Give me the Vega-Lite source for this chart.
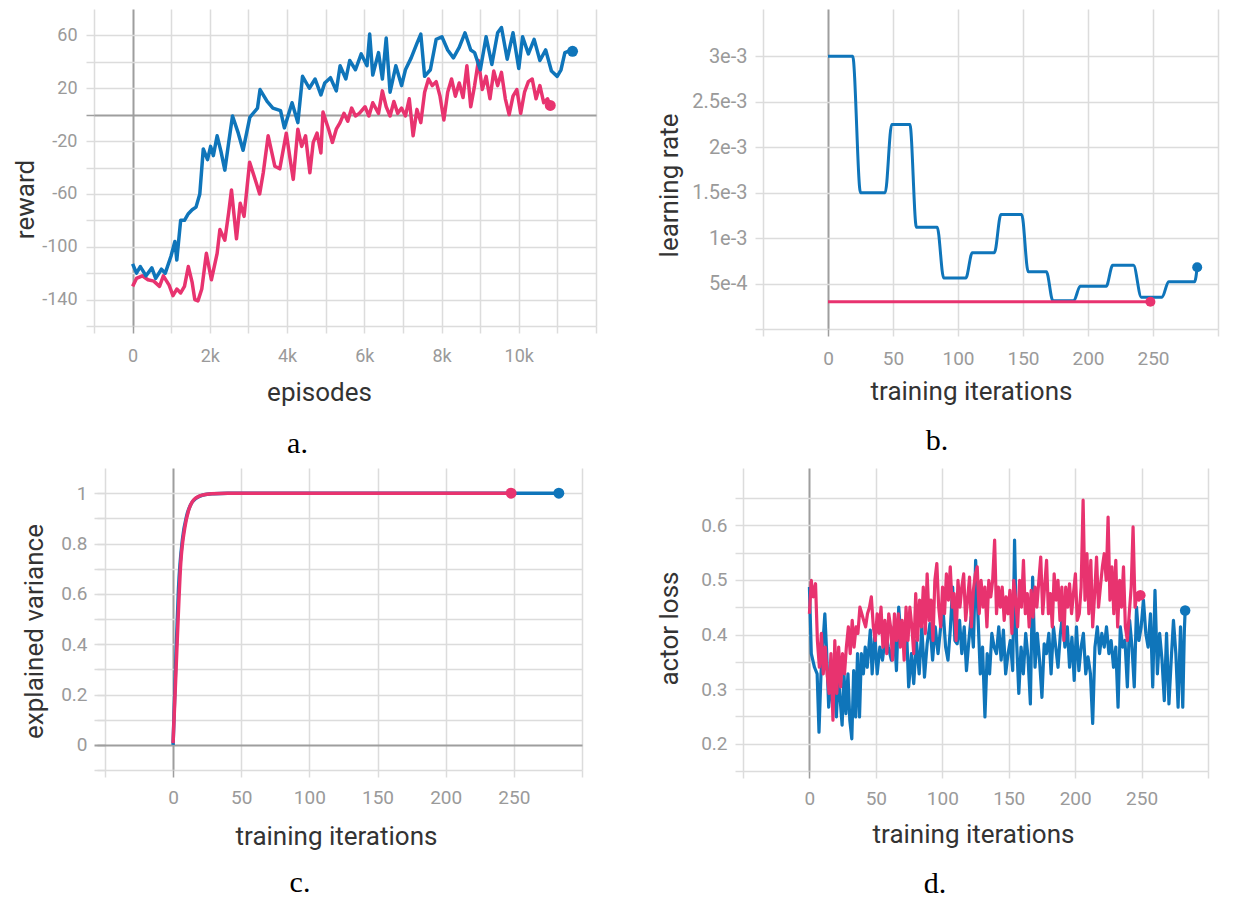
{
  "$schema": "https://vega.github.io/schema/vega-lite/v6.json",
  "autosize": {"type": "pad"},
  "padding": {"left": 12, "top": 9, "right": 5, "bottom": 5},
  "background": "white",
  "columns": 2,
  "align": "none",
  "bounds": "full",
  "spacing": {"row": 9, "column": 59},
  "config": {
    "font": "Roboto",
    "view": {"stroke": null},
    "axis": {
      "domain": false,
      "labelFont": "Roboto",
      "labelColor": "#9a9a9a",
      "titleFont": "Roboto",
      "titleColor": "#333333",
      "titleFontWeight": "normal",
      "titleFontSize": 26,
      "tickWidth": 1.5,
      "gridWidth": 1.5,
      "labelOverlap": false,
      "labelFlush": false,
      "labelBound": false,
      "titleBaseline": "alphabetic",
      "titleAlign": "center",
      "titlePadding": 0
    },
    "title": {"font": "Liberation Serif", "fontSize": 30, "fontWeight": "normal", "color": "#000000", "orient": "bottom", "anchor": "middle", "frame": "group", "baseline": "alphabetic"}
  },
  "concat": [
    {
      "width": 502,
      "height": 317,
      "title": {"text": "a.", "offset": 24, "dx": -47.5},
      "data": {"values": [
        {"run":"run 1","step":0,"value":-113},{"run":"run 1","step":100,"value":-120},{"run":"run 1","step":199,"value":-115},{"run":"run 1","step":348,"value":-122},{"run":"run 1","step":498,"value":-116},{"run":"run 1","step":597,"value":-124},{"run":"run 1","step":746,"value":-117},{"run":"run 1","step":846,"value":-120},{"run":"run 1","step":995,"value":-107},{"run":"run 1","step":1095,"value":-96},{"run":"run 1","step":1144,"value":-110},{"run":"run 1","step":1244,"value":-80},{"run":"run 1","step":1343,"value":-80},{"run":"run 1","step":1443,"value":-75},{"run":"run 1","step":1542,"value":-72},{"run":"run 1","step":1642,"value":-70},{"run":"run 1","step":1740,"value":-60},{"run":"run 1","step":1830,"value":-26},{"run":"run 1","step":1940,"value":-34},{"run":"run 1","step":2020,"value":-24},{"run":"run 1","step":2090,"value":-31},{"run":"run 1","step":2189,"value":-16},{"run":"run 1","step":2289,"value":-28},{"run":"run 1","step":2388,"value":-42},{"run":"run 1","step":2488,"value":-21},{"run":"run 1","step":2587,"value":-1},{"run":"run 1","step":2736,"value":-14},{"run":"run 1","step":2860,"value":-27},{"run":"run 1","step":3035,"value":-2},{"run":"run 1","step":3234,"value":5},{"run":"run 1","step":3300,"value":19},{"run":"run 1","step":3483,"value":10},{"run":"run 1","step":3632,"value":5},{"run":"run 1","step":3831,"value":3},{"run":"run 1","step":3930,"value":-10},{"run":"run 1","step":4129,"value":9},{"run":"run 1","step":4279,"value":-6},{"run":"run 1","step":4400,"value":29},{"run":"run 1","step":4577,"value":20},{"run":"run 1","step":4726,"value":27},{"run":"run 1","step":4876,"value":15},{"run":"run 1","step":4975,"value":24},{"run":"run 1","step":5124,"value":28},{"run":"run 1","step":5274,"value":18},{"run":"run 1","step":5373,"value":37},{"run":"run 1","step":5522,"value":27},{"run":"run 1","step":5622,"value":41},{"run":"run 1","step":5771,"value":34},{"run":"run 1","step":5920,"value":46},{"run":"run 1","step":6070,"value":37},{"run":"run 1","step":6139,"value":61},{"run":"run 1","step":6219,"value":30},{"run":"run 1","step":6368,"value":47},{"run":"run 1","step":6468,"value":27},{"run":"run 1","step":6567,"value":58},{"run":"run 1","step":6667,"value":17},{"run":"run 1","step":6816,"value":37},{"run":"run 1","step":6965,"value":22},{"run":"run 1","step":7065,"value":34},{"run":"run 1","step":7214,"value":43},{"run":"run 1","step":7363,"value":54},{"run":"run 1","step":7463,"value":61},{"run":"run 1","step":7562,"value":29},{"run":"run 1","step":7711,"value":34},{"run":"run 1","step":7861,"value":57},{"run":"run 1","step":8010,"value":59},{"run":"run 1","step":8159,"value":49},{"run":"run 1","step":8308,"value":43},{"run":"run 1","step":8458,"value":51},{"run":"run 1","step":8607,"value":62},{"run":"run 1","step":8756,"value":49},{"run":"run 1","step":8856,"value":47},{"run":"run 1","step":9005,"value":34},{"run":"run 1","step":9154,"value":59},{"run":"run 1","step":9303,"value":38},{"run":"run 1","step":9453,"value":62},{"run":"run 1","step":9552,"value":66},{"run":"run 1","step":9701,"value":42},{"run":"run 1","step":9851,"value":62},{"run":"run 1","step":10000,"value":35},{"run":"run 1","step":10099,"value":59},{"run":"run 1","step":10249,"value":46},{"run":"run 1","step":10398,"value":57},{"run":"run 1","step":10547,"value":41},{"run":"run 1","step":10697,"value":49},{"run":"run 1","step":10846,"value":33},{"run":"run 1","step":10995,"value":29},{"run":"run 1","step":11094,"value":34},{"run":"run 1","step":11194,"value":47},{"run":"run 1","step":11293,"value":48},{"run":"run 1","step":11393,"value":48},
        {"run":"run 2","step":0,"value":-130},{"run":"run 2","step":100,"value":-124},{"run":"run 2","step":249,"value":-122},{"run":"run 2","step":398,"value":-125},{"run":"run 2","step":547,"value":-126},{"run":"run 2","step":697,"value":-130},{"run":"run 2","step":796,"value":-122},{"run":"run 2","step":945,"value":-129},{"run":"run 2","step":1045,"value":-137},{"run":"run 2","step":1144,"value":-132},{"run":"run 2","step":1244,"value":-135},{"run":"run 2","step":1343,"value":-130},{"run":"run 2","step":1443,"value":-115},{"run":"run 2","step":1542,"value":-127},{"run":"run 2","step":1610,"value":-140},{"run":"run 2","step":1692,"value":-141},{"run":"run 2","step":1791,"value":-132},{"run":"run 2","step":1910,"value":-105},{"run":"run 2","step":2040,"value":-125},{"run":"run 2","step":2189,"value":-105},{"run":"run 2","step":2260,"value":-87},{"run":"run 2","step":2388,"value":-95},{"run":"run 2","step":2488,"value":-74},{"run":"run 2","step":2560,"value":-57},{"run":"run 2","step":2690,"value":-94},{"run":"run 2","step":2786,"value":-67},{"run":"run 2","step":2886,"value":-77},{"run":"run 2","step":3030,"value":-36},{"run":"run 2","step":3184,"value":-50},{"run":"run 2","step":3290,"value":-60},{"run":"run 2","step":3383,"value":-44},{"run":"run 2","step":3510,"value":-16},{"run":"run 2","step":3682,"value":-39},{"run":"run 2","step":3810,"value":-41},{"run":"run 2","step":3980,"value":-14},{"run":"run 2","step":4080,"value":-34},{"run":"run 2","step":4160,"value":-49},{"run":"run 2","step":4279,"value":-11},{"run":"run 2","step":4378,"value":-24},{"run":"run 2","step":4478,"value":-16},{"run":"run 2","step":4590,"value":-44},{"run":"run 2","step":4677,"value":-21},{"run":"run 2","step":4776,"value":-14},{"run":"run 2","step":4876,"value":-29},{"run":"run 2","step":4930,"value":2},{"run":"run 2","step":5075,"value":-11},{"run":"run 2","step":5174,"value":-21},{"run":"run 2","step":5274,"value":-11},{"run":"run 2","step":5373,"value":-6},{"run":"run 2","step":5473,"value":1},{"run":"run 2","step":5572,"value":-5},{"run":"run 2","step":5672,"value":5},{"run":"run 2","step":5771,"value":-1},{"run":"run 2","step":5871,"value":1},{"run":"run 2","step":6020,"value":6},{"run":"run 2","step":6119,"value":-1},{"run":"run 2","step":6219,"value":9},{"run":"run 2","step":6368,"value":1},{"run":"run 2","step":6468,"value":18},{"run":"run 2","step":6567,"value":6},{"run":"run 2","step":6667,"value":-1},{"run":"run 2","step":6766,"value":10},{"run":"run 2","step":6866,"value":1},{"run":"run 2","step":6965,"value":5},{"run":"run 2","step":7065,"value":-1},{"run":"run 2","step":7164,"value":12},{"run":"run 2","step":7264,"value":-16},{"run":"run 2","step":7363,"value":4},{"run":"run 2","step":7463,"value":-6},{"run":"run 2","step":7562,"value":17},{"run":"run 2","step":7662,"value":27},{"run":"run 2","step":7761,"value":22},{"run":"run 2","step":7861,"value":25},{"run":"run 2","step":7960,"value":14},{"run":"run 2","step":8060,"value":-4},{"run":"run 2","step":8159,"value":17},{"run":"run 2","step":8259,"value":27},{"run":"run 2","step":8358,"value":14},{"run":"run 2","step":8458,"value":24},{"run":"run 2","step":8557,"value":13},{"run":"run 2","step":8657,"value":37},{"run":"run 2","step":8756,"value":6},{"run":"run 2","step":8856,"value":22},{"run":"run 2","step":8955,"value":41},{"run":"run 2","step":9055,"value":19},{"run":"run 2","step":9154,"value":29},{"run":"run 2","step":9254,"value":12},{"run":"run 2","step":9353,"value":33},{"run":"run 2","step":9453,"value":22},{"run":"run 2","step":9552,"value":32},{"run":"run 2","step":9652,"value":12},{"run":"run 2","step":9751,"value":0},{"run":"run 2","step":9851,"value":14},{"run":"run 2","step":9950,"value":19},{"run":"run 2","step":10050,"value":1},{"run":"run 2","step":10149,"value":17},{"run":"run 2","step":10249,"value":25},{"run":"run 2","step":10348,"value":27},{"run":"run 2","step":10448,"value":12},{"run":"run 2","step":10547,"value":22},{"run":"run 2","step":10647,"value":9},{"run":"run 2","step":10746,"value":12},{"run":"run 2","step":10816,"value":7}
      ]},
      "encoding": {
        "x": {"field": "step", "type": "quantitative", "scale": {"domain": [-1000, 12000], "nice": false, "zero": false},
          "axis": {"values": [-1000,0,1000,2000,3000,4000,5000,6000,7000,8000,9000,10000,11000,12000],
            "labelExpr": "datum.value == 0 ? '0' : (datum.value > 0 && datum.value <= 10000 && datum.value % 2000 == 0 ? (datum.value / 1000) + 'k' : '')",
            "labelFontSize": 18, "tickSize": 7, "labelPadding": 14,
            "title": "episodes", "titleX": 225, "titleY": 74,
            "gridColor": {"condition": {"test": "datum.value === 0", "value": "#9e9e9e"}, "value": "#dcdcdc"},
            "gridWidth": {"condition": {"test": "datum.value === 0", "value": 2}, "value": 1.5},
            "tickColor": {"condition": {"test": "datum.value === 0", "value": "#9e9e9e"}, "value": "#dcdcdc"}}},
        "y": {"field": "value", "type": "quantitative", "scale": {"domain": [-160, 80], "nice": false, "zero": false},
          "axis": {"values": [-160,-140,-120,-100,-80,-60,-40,-20,0,20,40,60],
            "labelExpr": "(datum.value + 180) % 40 == 0 ? '' + datum.value : ''",
            "labelFontSize": 18, "tickSize": 8, "labelPadding": 9,
            "title": "reward", "titleX": -61, "titleY": 190,
            "gridColor": {"condition": {"test": "datum.value === 0", "value": "#9e9e9e"}, "value": "#dcdcdc"},
            "gridWidth": {"condition": {"test": "datum.value === 0", "value": 2}, "value": 1.5},
            "tickColor": {"condition": {"test": "datum.value === 0", "value": "#9e9e9e"}, "value": "#dcdcdc"}}},
        "color": {"field": "run", "type": "nominal", "scale": {"domain": ["run 1", "run 2"], "range": ["#0f75ba", "#e8336f"]}, "legend": null}
      },
      "layer": [
        {"transform": [{"filter": "datum.run === 'run 2'"}], "mark": {"type": "line", "strokeWidth": 3.5, "strokeJoin": "round"}},
        {"transform": [{"filter": "datum.run === 'run 1'"}], "mark": {"type": "line", "strokeWidth": 3.5, "strokeJoin": "round"}},
        {"transform": [{"joinaggregate": [{"op": "max", "field": "step", "as": "maxstep"}], "groupby": ["run"]}, {"filter": "datum.step === datum.maxstep"}],
         "mark": {"type": "point", "filled": true, "size": 120, "opacity": 1}}
      ]
    },
    {
      "width": 455,
      "height": 320,
      "title": {"text": "b.", "offset": 22, "dx": -53.5},
      "data": {"values": [
        {"run":"run 1","step":0,"value":0.003},{"run":"run 1","step":19,"value":0.003},{"run":"run 1","step":25,"value":0.0015},{"run":"run 1","step":44,"value":0.0015},{"run":"run 1","step":49,"value":0.00225},{"run":"run 1","step":63,"value":0.00225},{"run":"run 1","step":68,"value":0.00112},{"run":"run 1","step":84,"value":0.00112},{"run":"run 1","step":89,"value":0.00056},{"run":"run 1","step":106,"value":0.00056},{"run":"run 1","step":111,"value":0.00084},{"run":"run 1","step":128,"value":0.00084},{"run":"run 1","step":133,"value":0.00126},{"run":"run 1","step":149,"value":0.00126},{"run":"run 1","step":154,"value":0.00063},{"run":"run 1","step":168,"value":0.00063},{"run":"run 1","step":173,"value":0.00031},{"run":"run 1","step":189,"value":0.00031},{"run":"run 1","step":194,"value":0.00047},{"run":"run 1","step":214,"value":0.00047},{"run":"run 1","step":219,"value":0.0007},{"run":"run 1","step":235,"value":0.0007},{"run":"run 1","step":241,"value":0.00035},{"run":"run 1","step":257,"value":0.00035},{"run":"run 1","step":262,"value":0.00052},{"run":"run 1","step":282,"value":0.00052},{"run":"run 1","step":284,"value":0.00068},
        {"run":"run 2","step":0,"value":0.0003},{"run":"run 2","step":248,"value":0.0003}
      ]},
      "encoding": {
        "x": {"field": "step", "type": "quantitative", "scale": {"domain": [-50, 300], "nice": false, "zero": false},
          "axis": {"values": [-50,0,50,100,150,200,250,300],
            "labelExpr": "datum.value >= 0 && datum.value <= 250 ? datum.label : ''",
            "labelFontSize": 19, "tickSize": 7, "labelPadding": 13,
            "title": "training iterations", "titleX": 208, "titleY": 70,
            "gridColor": {"condition": {"test": "datum.value === 0", "value": "#9e9e9e"}, "value": "#dcdcdc"},
            "gridWidth": {"condition": {"test": "datum.value === 0", "value": 2}, "value": 1.5},
            "tickColor": {"condition": {"test": "datum.value === 0", "value": "#9e9e9e"}, "value": "#dcdcdc"}}},
        "y": {"field": "value", "type": "quantitative", "scale": {"domain": [0, 0.00352], "nice": false, "zero": false},
          "axis": {"values": [0,0.0005,0.001,0.0015,0.002,0.0025,0.003],
            "labelExpr": "round(datum.value*10000) == 5 ? '5e-4' : round(datum.value*10000) == 10 ? '1e-3' : round(datum.value*10000) == 15 ? '1.5e-3' : round(datum.value*10000) == 20 ? '2e-3' : round(datum.value*10000) == 25 ? '2.5e-3' : round(datum.value*10000) == 30 ? '3e-3' : ''",
            "labelFontSize": 20, "tickSize": 8, "labelPadding": 8,
            "title": "learning rate", "titleX": -86, "titleY": 176,
            "gridColor": "#dcdcdc", "tickColor": "#dcdcdc"}},
        "color": {"field": "run", "type": "nominal", "scale": {"domain": ["run 1", "run 2"], "range": ["#0f75ba", "#e8336f"]}, "legend": null}
      },
      "layer": [
        {"transform": [{"filter": "datum.run === 'run 1'"}], "mark": {"type": "line", "strokeWidth": 3, "interpolate": "monotone"}},
        {"transform": [{"filter": "datum.run === 'run 2'"}], "mark": {"type": "line", "strokeWidth": 3}},
        {"transform": [{"joinaggregate": [{"op": "max", "field": "step", "as": "maxstep"}], "groupby": ["run"]}, {"filter": "datum.step === datum.maxstep"}],
         "mark": {"type": "point", "filled": true, "size": 100, "opacity": 1}}
      ]
    },
    {
      "width": 488,
      "height": 302,
      "title": {"text": "c.", "offset": 19, "dx": -38},
      "data": {"values": [
        {"run":"run 1","step":0,"value":0},{"run":"run 1","step":2,"value":0.33},{"run":"run 1","step":4,"value":0.62},{"run":"run 1","step":7,"value":0.82},{"run":"run 1","step":10,"value":0.91},{"run":"run 1","step":13,"value":0.955},{"run":"run 1","step":17,"value":0.98},{"run":"run 1","step":22,"value":0.993},{"run":"run 1","step":30,"value":0.998},{"run":"run 1","step":40,"value":1},{"run":"run 1","step":283,"value":1},
        {"run":"run 2","step":0,"value":0.007},{"run":"run 2","step":3,"value":0.41},{"run":"run 2","step":5.6,"value":0.72},{"run":"run 2","step":8.5,"value":0.86},{"run":"run 2","step":11.3,"value":0.93},{"run":"run 2","step":14,"value":0.965},{"run":"run 2","step":20,"value":0.99},{"run":"run 2","step":28,"value":0.998},{"run":"run 2","step":40,"value":1},{"run":"run 2","step":248,"value":1}
      ]},
      "encoding": {
        "x": {"field": "step", "type": "quantitative", "scale": {"domain": [-58, 300], "nice": false, "zero": false},
          "axis": {"values": [-50,0,50,100,150,200,250,300],
            "labelExpr": "datum.value >= 0 && datum.value <= 250 ? datum.label : ''",
            "labelFontSize": 19, "tickSize": 7, "labelPadding": 11,
            "title": "training iterations", "titleX": 242, "titleY": 74,
            "gridColor": {"condition": {"test": "datum.value === 0", "value": "#9e9e9e"}, "value": "#dcdcdc"},
            "gridWidth": {"condition": {"test": "datum.value === 0", "value": 2}, "value": 1.5},
            "tickColor": {"condition": {"test": "datum.value === 0", "value": "#9e9e9e"}, "value": "#dcdcdc"}}},
        "y": {"field": "value", "type": "quantitative", "scale": {"domain": [-0.1, 1.1], "nice": false, "zero": false},
          "axis": {"values": [-0.1,0,0.1,0.2,0.3,0.4,0.5,0.6,0.7,0.8,0.9,1],
            "labelExpr": "round(datum.value*10) % 2 == 0 && datum.value > -0.05 && datum.value < 1.05 ? format(datum.value, '~g') : ''",
            "labelFontSize": 19, "tickSize": 8, "labelPadding": 10, "offset": -11,
            "title": "explained variance", "titleX": -63, "titleY": 163,
            "gridColor": {"condition": {"test": "datum.value === 0", "value": "#9e9e9e"}, "value": "#dcdcdc"},
            "gridWidth": {"condition": {"test": "datum.value === 0", "value": 2}, "value": 1.5},
            "tickColor": {"condition": {"test": "datum.value === 0", "value": "#9e9e9e"}, "value": "#dcdcdc"}}},
        "color": {"field": "run", "type": "nominal", "scale": {"domain": ["run 1", "run 2"], "range": ["#0f75ba", "#e8336f"]}, "legend": null}
      },
      "layer": [
        {"transform": [{"filter": "datum.run === 'run 1'"}], "mark": {"type": "line", "strokeWidth": 3.5, "interpolate": "monotone"}},
        {"transform": [{"filter": "datum.run === 'run 2'"}], "mark": {"type": "line", "strokeWidth": 3.5, "interpolate": "monotone"}},
        {"transform": [{"joinaggregate": [{"op": "max", "field": "step", "as": "maxstep"}], "groupby": ["run"]}, {"filter": "datum.step === datum.maxstep"}],
         "mark": {"type": "point", "filled": true, "size": 120, "opacity": 1}}
      ]
    },
    {
      "width": 465,
      "height": 303,
      "title": {"text": "d.", "offset": 22, "dx": -40.5},
      "data": {"values": [
        {"run":"run 1","step":0,"value":0.487},{"run":"run 1","step":1.4,"value":0.365},{"run":"run 1","step":3.8,"value":0.34},{"run":"run 1","step":5.8,"value":0.328},{"run":"run 1","step":7.2,"value":0.221},{"run":"run 1","step":8.7,"value":0.328},{"run":"run 1","step":10,"value":0.377},{"run":"run 1","step":11.6,"value":0.438},{"run":"run 1","step":13,"value":0.365},{"run":"run 1","step":14.5,"value":0.267},{"run":"run 1","step":16,"value":0.328},{"run":"run 1","step":17.4,"value":0.273},{"run":"run 1","step":18.8,"value":0.304},{"run":"run 1","step":20.3,"value":0.249},{"run":"run 1","step":21.7,"value":0.328},{"run":"run 1","step":23.2,"value":0.279},{"run":"run 1","step":24.6,"value":0.234},{"run":"run 1","step":26,"value":0.328},{"run":"run 1","step":27.5,"value":0.255},{"run":"run 1","step":29,"value":0.328},{"run":"run 1","step":30.4,"value":0.243},{"run":"run 1","step":31.9,"value":0.209},{"run":"run 1","step":33.3,"value":0.334},{"run":"run 1","step":34.8,"value":0.249},{"run":"run 1","step":36.2,"value":0.365},{"run":"run 1","step":37.7,"value":0.249},{"run":"run 1","step":39.1,"value":0.365},{"run":"run 1","step":40.6,"value":0.328},{"run":"run 1","step":42,"value":0.377},{"run":"run 1","step":43.5,"value":0.34},{"run":"run 1","step":45.8,"value":0.408},{"run":"run 1","step":47.2,"value":0.328},{"run":"run 1","step":49.2,"value":0.402},{"run":"run 1","step":51,"value":0.328},{"run":"run 1","step":53,"value":0.377},{"run":"run 1","step":55,"value":0.353},{"run":"run 1","step":57.4,"value":0.402},{"run":"run 1","step":59.4,"value":0.377},{"run":"run 1","step":61.7,"value":0.353},{"run":"run 1","step":63.7,"value":0.414},{"run":"run 1","step":65.5,"value":0.334},{"run":"run 1","step":67.2,"value":0.45},{"run":"run 1","step":69,"value":0.389},{"run":"run 1","step":71,"value":0.377},{"run":"run 1","step":73,"value":0.414},{"run":"run 1","step":74.7,"value":0.304},{"run":"run 1","step":76.8,"value":0.365},{"run":"run 1","step":78.5,"value":0.31},{"run":"run 1","step":80.5,"value":0.389},{"run":"run 1","step":82.6,"value":0.328},{"run":"run 1","step":84.6,"value":0.414},{"run":"run 1","step":86.6,"value":0.322},{"run":"run 1","step":88.6,"value":0.383},{"run":"run 1","step":90.7,"value":0.42},{"run":"run 1","step":92.7,"value":0.353},{"run":"run 1","step":94.7,"value":0.414},{"run":"run 1","step":96.8,"value":0.365},{"run":"run 1","step":98.8,"value":0.414},{"run":"run 1","step":100.8,"value":0.438},{"run":"run 1","step":102.5,"value":0.377},{"run":"run 1","step":104.3,"value":0.353},{"run":"run 1","step":106,"value":0.408},{"run":"run 1","step":107.8,"value":0.487},{"run":"run 1","step":109.5,"value":0.389},{"run":"run 1","step":111.2,"value":0.383},{"run":"run 1","step":113,"value":0.426},{"run":"run 1","step":114.7,"value":0.365},{"run":"run 1","step":116.5,"value":0.414},{"run":"run 1","step":118.2,"value":0.334},{"run":"run 1","step":120,"value":0.389},{"run":"run 1","step":121.7,"value":0.432},{"run":"run 1","step":123.4,"value":0.377},{"run":"run 1","step":125.1,"value":0.536},{"run":"run 1","step":126.9,"value":0.432},{"run":"run 1","step":128.6,"value":0.328},{"run":"run 1","step":130.3,"value":0.377},{"run":"run 1","step":132.1,"value":0.249},{"run":"run 1","step":133.8,"value":0.365},{"run":"run 1","step":135.6,"value":0.328},{"run":"run 1","step":137.3,"value":0.402},{"run":"run 1","step":139,"value":0.377},{"run":"run 1","step":140.8,"value":0.365},{"run":"run 1","step":142.5,"value":0.414},{"run":"run 1","step":144.3,"value":0.353},{"run":"run 1","step":146,"value":0.408},{"run":"run 1","step":147.7,"value":0.328},{"run":"run 1","step":149.5,"value":0.365},{"run":"run 1","step":151.2,"value":0.389},{"run":"run 1","step":153,"value":0.334},{"run":"run 1","step":154.4,"value":0.573},{"run":"run 1","step":155.9,"value":0.389},{"run":"run 1","step":157.6,"value":0.292},{"run":"run 1","step":159.3,"value":0.377},{"run":"run 1","step":161,"value":0.328},{"run":"run 1","step":162.8,"value":0.402},{"run":"run 1","step":164.5,"value":0.359},{"run":"run 1","step":166.3,"value":0.273},{"run":"run 1","step":168,"value":0.505},{"run":"run 1","step":169.8,"value":0.34},{"run":"run 1","step":171.5,"value":0.402},{"run":"run 1","step":173.2,"value":0.353},{"run":"run 1","step":175,"value":0.285},{"run":"run 1","step":176.7,"value":0.383},{"run":"run 1","step":178.4,"value":0.365},{"run":"run 1","step":180.2,"value":0.402},{"run":"run 1","step":181.9,"value":0.328},{"run":"run 1","step":183.7,"value":0.414},{"run":"run 1","step":185.4,"value":0.377},{"run":"run 1","step":187.1,"value":0.34},{"run":"run 1","step":188.9,"value":0.402},{"run":"run 1","step":190.6,"value":0.438},{"run":"run 1","step":192.3,"value":0.377},{"run":"run 1","step":194.1,"value":0.414},{"run":"run 1","step":195.8,"value":0.34},{"run":"run 1","step":197.6,"value":0.395},{"run":"run 1","step":199.3,"value":0.316},{"run":"run 1","step":201,"value":0.414},{"run":"run 1","step":202.8,"value":0.334},{"run":"run 1","step":204.5,"value":0.377},{"run":"run 1","step":206.2,"value":0.402},{"run":"run 1","step":208,"value":0.328},{"run":"run 1","step":209.7,"value":0.359},{"run":"run 1","step":211.5,"value":0.328},{"run":"run 1","step":213.2,"value":0.237},{"run":"run 1","step":214.9,"value":0.377},{"run":"run 1","step":216.7,"value":0.414},{"run":"run 1","step":218.4,"value":0.365},{"run":"run 1","step":220.1,"value":0.402},{"run":"run 1","step":221.9,"value":0.377},{"run":"run 1","step":223.6,"value":0.414},{"run":"run 1","step":225.4,"value":0.365},{"run":"run 1","step":227.1,"value":0.389},{"run":"run 1","step":228.9,"value":0.34},{"run":"run 1","step":230.6,"value":0.377},{"run":"run 1","step":232.3,"value":0.267},{"run":"run 1","step":234,"value":0.414},{"run":"run 1","step":235.8,"value":0.377},{"run":"run 1","step":237.5,"value":0.389},{"run":"run 1","step":239.3,"value":0.304},{"run":"run 1","step":241,"value":0.426},{"run":"run 1","step":242.8,"value":0.377},{"run":"run 1","step":244.5,"value":0.304},{"run":"run 1","step":246.2,"value":0.45},{"run":"run 1","step":248,"value":0.389},{"run":"run 1","step":249.7,"value":0.414},{"run":"run 1","step":251.4,"value":0.463},{"run":"run 1","step":253.2,"value":0.402},{"run":"run 1","step":254.9,"value":0.377},{"run":"run 1","step":256.7,"value":0.438},{"run":"run 1","step":258.4,"value":0.304},{"run":"run 1","step":260.1,"value":0.481},{"run":"run 1","step":261.9,"value":0.328},{"run":"run 1","step":263.6,"value":0.402},{"run":"run 1","step":265.4,"value":0.353},{"run":"run 1","step":267.1,"value":0.279},{"run":"run 1","step":268.8,"value":0.402},{"run":"run 1","step":270.6,"value":0.273},{"run":"run 1","step":272.3,"value":0.353},{"run":"run 1","step":274,"value":0.426},{"run":"run 1","step":275.8,"value":0.365},{"run":"run 1","step":277.5,"value":0.267},{"run":"run 1","step":279.3,"value":0.414},{"run":"run 1","step":281,"value":0.267},{"run":"run 1","step":282.2,"value":0.408},{"run":"run 1","step":282.8,"value":0.444},
        {"run":"run 2","step":0,"value":0.438},{"run":"run 2","step":1.4,"value":0.499},{"run":"run 2","step":2.9,"value":0.469},{"run":"run 2","step":4.6,"value":0.493},{"run":"run 2","step":6,"value":0.389},{"run":"run 2","step":7.5,"value":0.34},{"run":"run 2","step":9,"value":0.402},{"run":"run 2","step":10.4,"value":0.328},{"run":"run 2","step":11.9,"value":0.377},{"run":"run 2","step":13.3,"value":0.328},{"run":"run 2","step":14.8,"value":0.292},{"run":"run 2","step":16.2,"value":0.365},{"run":"run 2","step":17.7,"value":0.243},{"run":"run 2","step":19.1,"value":0.389},{"run":"run 2","step":20.6,"value":0.292},{"run":"run 2","step":22,"value":0.377},{"run":"run 2","step":23.5,"value":0.304},{"run":"run 2","step":24.9,"value":0.365},{"run":"run 2","step":26.4,"value":0.328},{"run":"run 2","step":27.8,"value":0.377},{"run":"run 2","step":29.3,"value":0.414},{"run":"run 2","step":30.7,"value":0.365},{"run":"run 2","step":32.2,"value":0.426},{"run":"run 2","step":33.6,"value":0.377},{"run":"run 2","step":35.1,"value":0.414},{"run":"run 2","step":36.5,"value":0.402},{"run":"run 2","step":38,"value":0.45},{"run":"run 2","step":39.4,"value":0.438},{"run":"run 2","step":40.8,"value":0.426},{"run":"run 2","step":42.3,"value":0.414},{"run":"run 2","step":43.7,"value":0.438},{"run":"run 2","step":45.2,"value":0.45},{"run":"run 2","step":46.6,"value":0.469},{"run":"run 2","step":48.1,"value":0.414},{"run":"run 2","step":49.5,"value":0.389},{"run":"run 2","step":51,"value":0.438},{"run":"run 2","step":52.4,"value":0.402},{"run":"run 2","step":53.9,"value":0.45},{"run":"run 2","step":55.3,"value":0.377},{"run":"run 2","step":56.8,"value":0.426},{"run":"run 2","step":58.2,"value":0.365},{"run":"run 2","step":59.7,"value":0.438},{"run":"run 2","step":61.1,"value":0.414},{"run":"run 2","step":62.6,"value":0.353},{"run":"run 2","step":64,"value":0.438},{"run":"run 2","step":65.5,"value":0.389},{"run":"run 2","step":67,"value":0.438},{"run":"run 2","step":68.4,"value":0.377},{"run":"run 2","step":69.8,"value":0.426},{"run":"run 2","step":71.3,"value":0.353},{"run":"run 2","step":72.7,"value":0.45},{"run":"run 2","step":74.2,"value":0.389},{"run":"run 2","step":75.6,"value":0.45},{"run":"run 2","step":77.1,"value":0.414},{"run":"run 2","step":78.5,"value":0.365},{"run":"run 2","step":80,"value":0.475},{"run":"run 2","step":81.4,"value":0.389},{"run":"run 2","step":82.9,"value":0.463},{"run":"run 2","step":84.3,"value":0.414},{"run":"run 2","step":85.7,"value":0.487},{"run":"run 2","step":87.2,"value":0.402},{"run":"run 2","step":88.6,"value":0.511},{"run":"run 2","step":90.1,"value":0.426},{"run":"run 2","step":91.5,"value":0.463},{"run":"run 2","step":93,"value":0.389},{"run":"run 2","step":94.4,"value":0.499},{"run":"run 2","step":95.9,"value":0.53},{"run":"run 2","step":97.3,"value":0.45},{"run":"run 2","step":98.8,"value":0.414},{"run":"run 2","step":100.2,"value":0.487},{"run":"run 2","step":101.7,"value":0.438},{"run":"run 2","step":103.1,"value":0.511},{"run":"run 2","step":104.6,"value":0.463},{"run":"run 2","step":106,"value":0.524},{"run":"run 2","step":107.5,"value":0.45},{"run":"run 2","step":108.9,"value":0.475},{"run":"run 2","step":110.4,"value":0.389},{"run":"run 2","step":111.8,"value":0.499},{"run":"run 2","step":113.3,"value":0.45},{"run":"run 2","step":114.7,"value":0.487},{"run":"run 2","step":116.1,"value":0.511},{"run":"run 2","step":117.6,"value":0.426},{"run":"run 2","step":119,"value":0.463},{"run":"run 2","step":120.5,"value":0.505},{"run":"run 2","step":121.9,"value":0.414},{"run":"run 2","step":123.4,"value":0.481},{"run":"run 2","step":124.9,"value":0.511},{"run":"run 2","step":126.3,"value":0.524},{"run":"run 2","step":127.8,"value":0.438},{"run":"run 2","step":129.2,"value":0.499},{"run":"run 2","step":130.7,"value":0.45},{"run":"run 2","step":132.1,"value":0.487},{"run":"run 2","step":133.6,"value":0.414},{"run":"run 2","step":135,"value":0.499},{"run":"run 2","step":136.5,"value":0.469},{"run":"run 2","step":137.9,"value":0.499},{"run":"run 2","step":139.4,"value":0.573},{"run":"run 2","step":140.8,"value":0.438},{"run":"run 2","step":142.2,"value":0.487},{"run":"run 2","step":143.7,"value":0.45},{"run":"run 2","step":145.1,"value":0.487},{"run":"run 2","step":146.6,"value":0.426},{"run":"run 2","step":148,"value":0.469},{"run":"run 2","step":149.5,"value":0.438},{"run":"run 2","step":150.9,"value":0.481},{"run":"run 2","step":152.4,"value":0.402},{"run":"run 2","step":153.8,"value":0.499},{"run":"run 2","step":155.3,"value":0.463},{"run":"run 2","step":156.7,"value":0.414},{"run":"run 2","step":158.2,"value":0.499},{"run":"run 2","step":159.6,"value":0.45},{"run":"run 2","step":161.1,"value":0.536},{"run":"run 2","step":162.5,"value":0.438},{"run":"run 2","step":164,"value":0.475},{"run":"run 2","step":165.4,"value":0.414},{"run":"run 2","step":166.9,"value":0.481},{"run":"run 2","step":168.3,"value":0.432},{"run":"run 2","step":169.8,"value":0.487},{"run":"run 2","step":171.2,"value":0.45},{"run":"run 2","step":172.7,"value":0.499},{"run":"run 2","step":174.1,"value":0.542},{"run":"run 2","step":175.6,"value":0.438},{"run":"run 2","step":177,"value":0.487},{"run":"run 2","step":178.5,"value":0.536},{"run":"run 2","step":179.9,"value":0.438},{"run":"run 2","step":181.4,"value":0.475},{"run":"run 2","step":182.8,"value":0.414},{"run":"run 2","step":184.2,"value":0.511},{"run":"run 2","step":185.7,"value":0.463},{"run":"run 2","step":187.1,"value":0.499},{"run":"run 2","step":188.6,"value":0.426},{"run":"run 2","step":190,"value":0.487},{"run":"run 2","step":191.5,"value":0.389},{"run":"run 2","step":192.9,"value":0.487},{"run":"run 2","step":194.4,"value":0.45},{"run":"run 2","step":195.8,"value":0.493},{"run":"run 2","step":197.3,"value":0.438},{"run":"run 2","step":198.7,"value":0.475},{"run":"run 2","step":200.2,"value":0.511},{"run":"run 2","step":201.6,"value":0.426},{"run":"run 2","step":203.1,"value":0.438},{"run":"run 2","step":204.5,"value":0.487},{"run":"run 2","step":206,"value":0.646},{"run":"run 2","step":207.4,"value":0.463},{"run":"run 2","step":208.9,"value":0.548},{"run":"run 2","step":210.3,"value":0.438},{"run":"run 2","step":211.8,"value":0.536},{"run":"run 2","step":213.2,"value":0.414},{"run":"run 2","step":214.7,"value":0.475},{"run":"run 2","step":216.1,"value":0.542},{"run":"run 2","step":217.6,"value":0.45},{"run":"run 2","step":219,"value":0.487},{"run":"run 2","step":220.5,"value":0.524},{"run":"run 2","step":221.9,"value":0.548},{"run":"run 2","step":223.4,"value":0.499},{"run":"run 2","step":224.8,"value":0.615},{"run":"run 2","step":226.2,"value":0.463},{"run":"run 2","step":227.7,"value":0.524},{"run":"run 2","step":229.1,"value":0.438},{"run":"run 2","step":230.6,"value":0.536},{"run":"run 2","step":232,"value":0.414},{"run":"run 2","step":233.5,"value":0.499},{"run":"run 2","step":234.9,"value":0.45},{"run":"run 2","step":236.4,"value":0.524},{"run":"run 2","step":237.8,"value":0.414},{"run":"run 2","step":239.3,"value":0.389},{"run":"run 2","step":240.7,"value":0.438},{"run":"run 2","step":242.2,"value":0.487},{"run":"run 2","step":243.6,"value":0.597},{"run":"run 2","step":245.1,"value":0.45},{"run":"run 2","step":246.5,"value":0.475},{"run":"run 2","step":248,"value":0.463},{"run":"run 2","step":249.1,"value":0.472}
      ]},
      "encoding": {
        "x": {"field": "step", "type": "quantitative", "scale": {"domain": [-50, 300], "nice": false, "zero": false},
          "axis": {"values": [-50,0,50,100,150,200,250,300],
            "labelExpr": "datum.value >= 0 && datum.value <= 250 ? datum.label : ''",
            "labelFontSize": 19, "tickSize": 7, "labelPadding": 11,
            "title": "training iterations", "titleX": 230, "titleY": 71,
            "gridColor": {"condition": {"test": "datum.value === 0", "value": "#9e9e9e"}, "value": "#dcdcdc"},
            "gridWidth": {"condition": {"test": "datum.value === 0", "value": 2}, "value": 1.5},
            "tickColor": {"condition": {"test": "datum.value === 0", "value": "#9e9e9e"}, "value": "#dcdcdc"}}},
        "y": {"field": "value", "type": "quantitative", "scale": {"domain": [0.15, 0.705], "nice": false, "zero": false},
          "axis": {"values": [0.15,0.2,0.25,0.3,0.35,0.4,0.45,0.5,0.55,0.6,0.65],
            "labelExpr": "round(datum.value*100) % 10 == 0 ? format(datum.value, '.1f') : ''",
            "labelFontSize": 19, "tickSize": 8, "labelPadding": 8,
            "title": "actor loss", "titleX": -66, "titleY": 160,
            "gridColor": "#dcdcdc", "tickColor": "#dcdcdc"}},
        "color": {"field": "run", "type": "nominal", "scale": {"domain": ["run 1", "run 2"], "range": ["#0f75ba", "#e8336f"]}, "legend": null}
      },
      "layer": [
        {"transform": [{"filter": "datum.run === 'run 1'"}], "mark": {"type": "line", "strokeWidth": 3.2, "strokeJoin": "round"}},
        {"transform": [{"filter": "datum.run === 'run 2'"}], "mark": {"type": "line", "strokeWidth": 3.2, "strokeJoin": "round"}},
        {"transform": [{"joinaggregate": [{"op": "max", "field": "step", "as": "maxstep"}], "groupby": ["run"]}, {"filter": "datum.step === datum.maxstep"}],
         "mark": {"type": "point", "filled": true, "size": 110, "opacity": 1}}
      ]
    }
  ]
}
